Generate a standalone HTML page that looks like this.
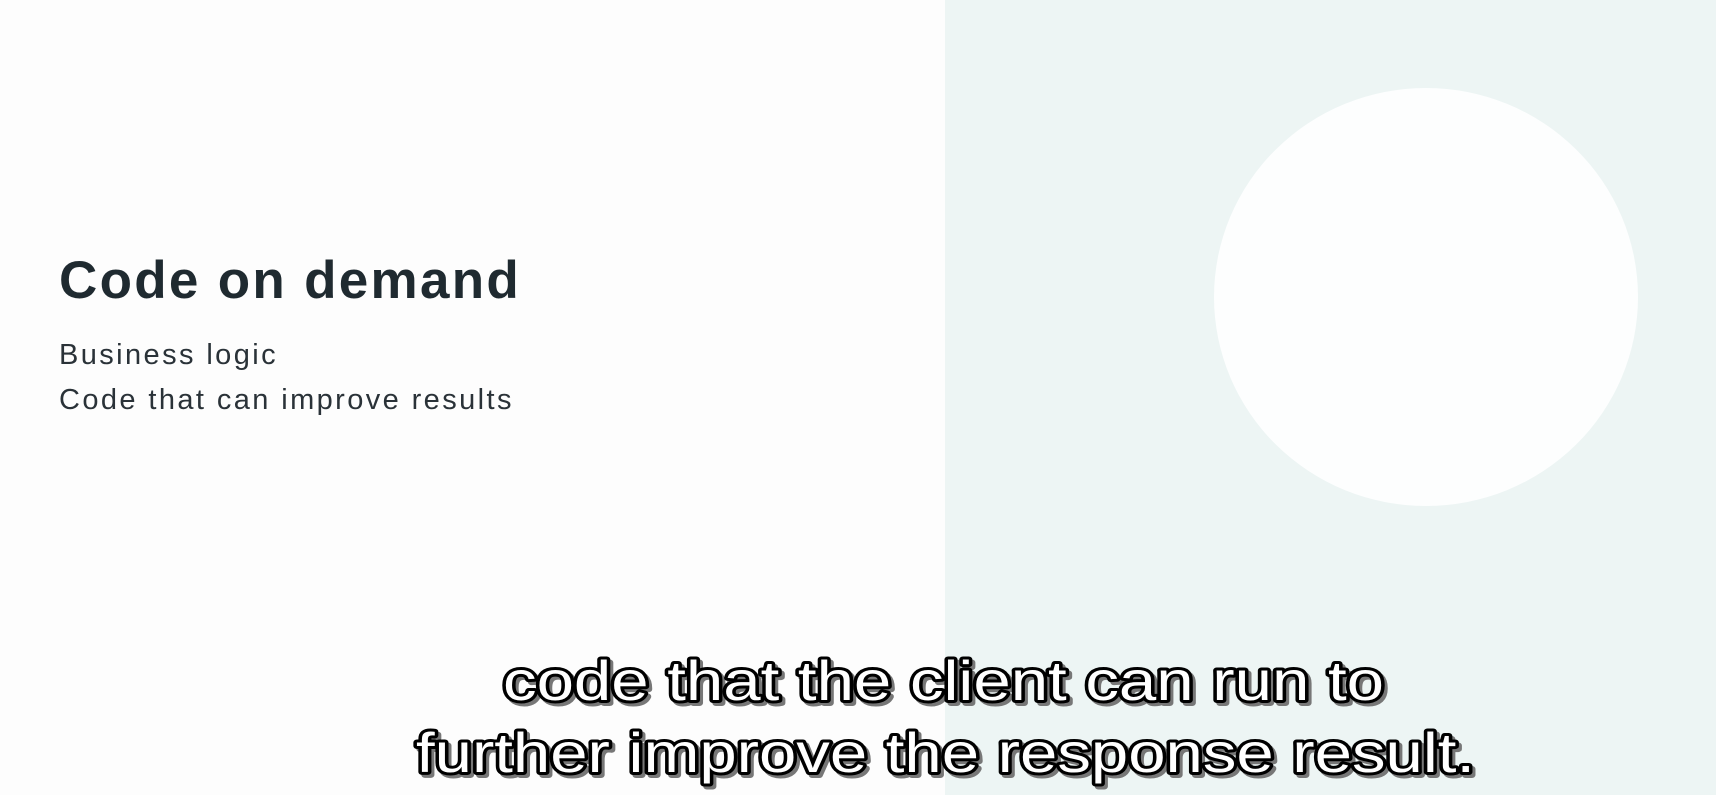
<!DOCTYPE html>
<html><head><style>
html,body{margin:0;padding:0}
body{width:1716px;height:795px;position:relative;overflow:hidden;background:#fdfdfd;font-family:"Liberation Sans",sans-serif}
.right{position:absolute;left:945px;top:0;width:771px;height:795px;background:#edf5f4}
.circle{position:absolute;left:1214px;top:88px;width:424px;height:418px;border-radius:50%;background:#fdfefe}
h1{position:absolute;left:59px;top:250px;margin:0;font-size:53px;font-weight:bold;color:#1f2a30;letter-spacing:2.3px}
.sub{position:absolute;left:59px;font-size:29px;color:#2a3238;letter-spacing:2.4px}
svg{position:absolute;left:0;top:0}
</style></head><body>
<div class="right"></div>
<div class="circle"></div>
<h1>Code on demand</h1>
<div class="sub" style="top:339px">Business logic</div>
<div class="sub" style="top:384px">Code that can improve results</div>
<svg width="1716" height="795">
<g font-family="Liberation Sans, sans-serif" font-size="56" stroke-linejoin="round">
<g fill="#777" stroke="#777" stroke-width="6" transform="translate(3,3)">
<text x="503" y="700" textLength="881" lengthAdjust="spacingAndGlyphs">code that the client can run to</text>
<text x="416" y="772" textLength="1059" lengthAdjust="spacingAndGlyphs">further improve the response result.</text>
</g>
<g fill="#fff" stroke="#000" stroke-width="6" paint-order="stroke">
<text x="503" y="700" textLength="881" lengthAdjust="spacingAndGlyphs">code that the client can run to</text>
<text x="416" y="772" textLength="1059" lengthAdjust="spacingAndGlyphs">further improve the response result.</text>
</g>
</g>
</svg>
</body></html>
